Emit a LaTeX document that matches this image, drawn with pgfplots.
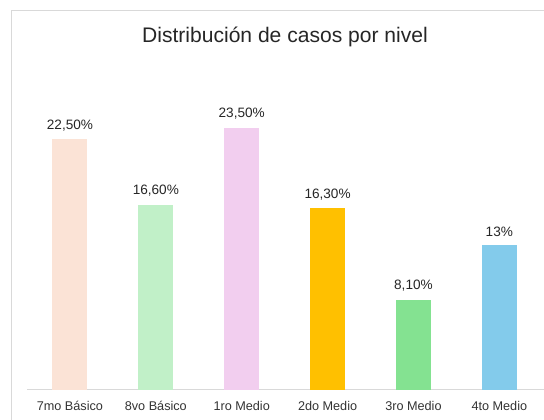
\documentclass[border=0pt]{standalone}
\usepackage{pgfplots}
\pgfplotsset{compat=1.18}
\usepackage{fontspec}
\setmainfont{Liberation Sans}
\definecolor{c1}{HTML}{FBE3D6}
\definecolor{c2}{HTML}{C1F0C8}
\definecolor{c3}{HTML}{F2CEEF}
\definecolor{c4}{HTML}{FFC000}
\definecolor{c5}{HTML}{84E291}
\definecolor{c6}{HTML}{83CBEB}
\definecolor{gridc}{HTML}{D9D9D9}
\begin{document}
\begin{tikzpicture}
\path[use as bounding box] (0,0) rectangle (408pt,315pt);
\draw[gridc, line width=0.75pt] (8.25pt,0) -- (8.25pt,306.75pt) -- (408pt,306.75pt);
\node[font=\fontsize{15.8}{18}\selectfont, text=black!85] at (213.75pt,287.5pt) {Distribución de casos por nivel};
\begin{axis}[
  at={(20.25pt,22.5pt)}, anchor=south west,
  scale only axis,
  width=387.75pt, height=251.1pt,
  xmin=-0.5, xmax=5.52, ymin=0, ymax=30,
  axis y line=none,
  axis x line*=bottom,
  axis line style={gridc, line width=0.75pt, -},
  xtick={0,1,2,3,4,5},
  xticklabels={7mo Básico,8vo Básico,1ro Medio,2do Medio,3ro Medio,4to Medio},
  major tick length=0pt,
  xticklabel style={font=\fontsize{9.5}{11}\selectfont, text=black!80, yshift=-5pt},
  ybar, bar width=26.25pt, bar shift=0pt,
  nodes near coords,
  point meta=explicit symbolic,
  every node near coord/.append style={font=\fontsize{10.2}{12}\selectfont, text=black!85, yshift=2.5pt},
  clip=false,
]
\addplot[draw=none, fill=c1] coordinates {(0,22.5) [22,50\%]};
\addplot[draw=none, fill=c2] coordinates {(1,16.6) [16,60\%]};
\addplot[draw=none, fill=c3] coordinates {(2,23.5) [23,50\%]};
\addplot[draw=none, fill=c4] coordinates {(3,16.3) [16,30\%]};
\addplot[draw=none, fill=c5] coordinates {(4,8.1) [8,10\%]};
\addplot[draw=none, fill=c6] coordinates {(5,13) [13\%]};
\end{axis}
\end{tikzpicture}
\end{document}
